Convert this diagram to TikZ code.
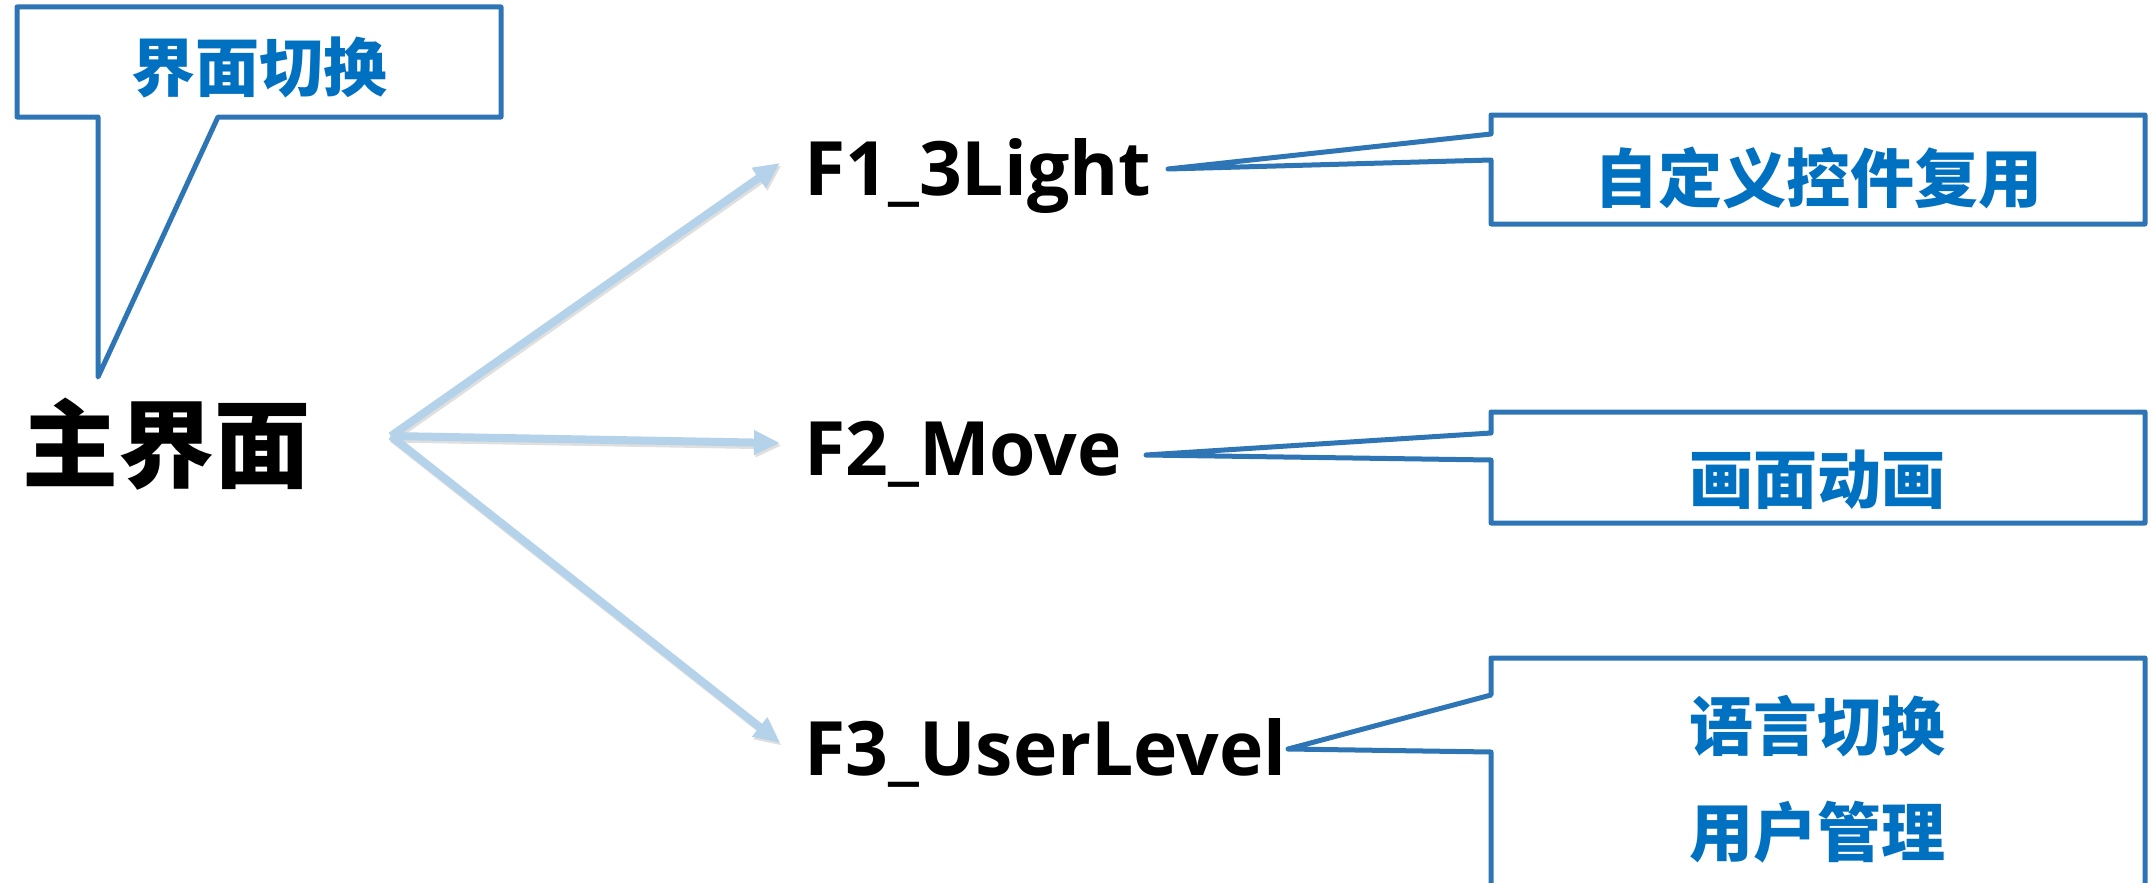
\documentclass[tikz,border=0pt]{standalone}
\usepackage{fontspec}
\setmainfont{Open Sans}
\newfontfamily\cjk{Noto Sans CJK SC}
\usetikzlibrary{arrows.meta}
\definecolor{boxblue}{RGB}{46,117,182}
\definecolor{txtblue}{RGB}{0,112,192}
\definecolor{arrblue}{RGB}{180,210,234}
\tikzset{
  calloutline/.style={draw=boxblue, line width=5pt, line join=round, fill=white},
  bluetext/.style={text=txtblue, font=\cjk\bfseries\fontsize{64}{70}\selectfont, inner sep=0pt},
  maintext/.style={text=black, font=\cjk\bfseries\fontsize{96}{100}\selectfont, inner sep=0pt},
  flabel/.style={text=black, font=\bfseries\fontsize{75}{80}\selectfont, inner sep=0pt, anchor=base west},
  fanarrow/.style={draw=arrblue, line width=8pt, -{Triangle[length=26pt,width=23pt]}},
  fanshadow/.style={draw=black!25, line width=8pt, -{Triangle[length=26pt,width=23pt]}, opacity=0.5},
}
\begin{document}
\begin{tikzpicture}[x=1pt,y=-1pt]
\useasboundingbox (0,0) rectangle (2149,883);
% main node
\node[maintext] (main) at (166,444) {主界面};
% labels
\node[flabel] (f1) at (804,195) {F1\_3Light};
\node[flabel] (f2) at (804,475) {F2\_Move};
\node[flabel] (f3) at (804,775) {F3\_UserLevel};
% fan arrows
\coordinate (o) at (391,436);
\coordinate (t1) at (780,163);
\coordinate (t2) at (780,443);
\coordinate (t3) at (780,743);
\foreach \t in {t1,t2,t3}{
  \draw[fanshadow] ([shift={(1.5,2.5)}]o) -- ([shift={(1.5,2.5)}]\t);
}
\foreach \t in {t1,t2,t3}{
  \draw[fanarrow] (o) -- (\t);
}
% callout 1
\coordinate (c1tip) at (98,377);
\draw[calloutline] (17,7) -- (501,7) -- (501,117) -- (218,117) -- (c1tip) -- (98,117) -- (17,117) -- cycle;
\node[bluetext] (c1) at (259,67) {界面切换};
% callout 2
\coordinate (c2tip) at (1168,169);
\draw[calloutline] (1491,115) -- (2145,115) -- (2145,224) -- (1491,224) -- (1491,160) -- (c2tip) -- (1491,134) -- cycle;
\node[bluetext] (c2) at (1818,178) {自定义控件复用};
% callout 3
\coordinate (c3tip) at (1146,455);
\draw[calloutline] (1491,412) -- (2145,412) -- (2145,523) -- (1491,523) -- (1491,460) -- (c3tip) -- (1491,433) -- cycle;
\node[bluetext] (c3) at (1817,480) {画面动画};
% callout 4
\coordinate (c4tip) at (1288,749);
\draw[calloutline] (1491,900) -- (1491,752) -- (c4tip) -- (1491,695) -- (1491,658) -- (2145,658) -- (2145,900);
\node[bluetext] (c4a) at (1817,726) {语言切换};
\node[bluetext] (c4b) at (1817,832) {用户管理};
\end{tikzpicture}
\end{document}
